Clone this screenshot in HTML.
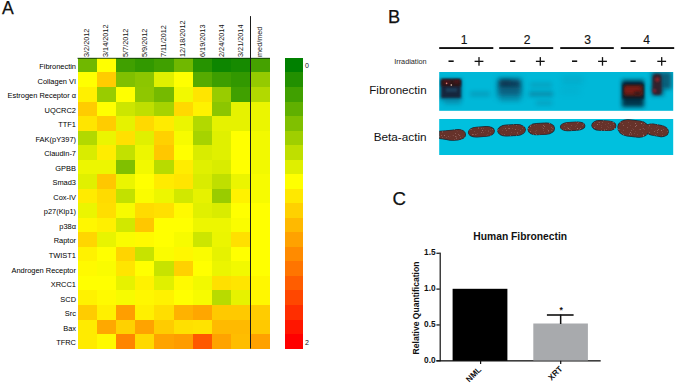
<!DOCTYPE html>
<html lang="en"><head><meta charset="utf-8"><title>Figure</title>
<style>html,body{margin:0;padding:0;background:#fff;overflow:hidden}body{width:675px;height:383px}</style>
</head><body>
<svg width="675" height="383" viewBox="0 0 675 383" font-family='"Liberation Sans", Arial, Helvetica, sans-serif' style="display:block">
<defs>
<filter id="b1" filterUnits="userSpaceOnUse" x="400" y="40" width="300" height="140"><feGaussianBlur stdDeviation="1"/></filter>
<filter id="b2" filterUnits="userSpaceOnUse" x="400" y="40" width="300" height="140"><feGaussianBlur stdDeviation="2"/></filter>
<filter id="b3" filterUnits="userSpaceOnUse" x="400" y="40" width="300" height="140"><feGaussianBlur stdDeviation="3"/></filter>
<filter id="b08" filterUnits="userSpaceOnUse" x="400" y="40" width="300" height="140"><feGaussianBlur stdDeviation="0.85"/></filter>
<filter id="b05" filterUnits="userSpaceOnUse" x="400" y="40" width="300" height="140"><feGaussianBlur stdDeviation="0.6"/></filter>
<filter id="tex" filterUnits="userSpaceOnUse" x="430" y="110" width="250" height="50">
<feTurbulence type="fractalNoise" baseFrequency="0.85" numOctaves="2" seed="7" result="n"/>
<feColorMatrix in="n" type="matrix" values="0 0 0 0 0.52  0 0 0 0 0.27  0 0 0 0 0.24  2.6 0 0 0 -1.62" result="sp"/>
<feComposite in="sp" in2="SourceAlpha" operator="in" result="sp2"/>
<feMerge result="m"><feMergeNode in="SourceGraphic"/><feMergeNode in="sp2"/></feMerge>
<feGaussianBlur in="m" stdDeviation="0.55"/>
</filter>
<filter id="soft" x="-5%" y="-5%" width="110%" height="110%"><feGaussianBlur stdDeviation="0.45"/></filter>
<clipPath id="c1"><rect x="439.2" y="72" width="234" height="38.8"/></clipPath>
<clipPath id="c2"><rect x="439.2" y="119" width="234" height="36"/></clipPath>
</defs>
<rect width="675" height="383" fill="#fff"/>
<text x="1.9" y="14.1" font-size="17.6" fill="#111" stroke="#111" stroke-width="0.25">A</text>
<text x="388.1" y="22.7" font-size="18.2" fill="#111" stroke="#111" stroke-width="0.25">B</text>
<text x="392.6" y="205.0" font-size="18.6" fill="#111" stroke="#111" stroke-width="0.25">C</text>
<g shape-rendering="crispEdges" filter="url(#soft)">
<rect x="77.50" y="57.90" width="19.54" height="14.84" fill="#70b800"/>
<rect x="96.75" y="57.90" width="19.54" height="14.84" fill="#ffff00"/>
<rect x="115.99" y="57.90" width="19.54" height="14.84" fill="#40a000"/>
<rect x="135.23" y="57.90" width="19.54" height="14.84" fill="#339900"/>
<rect x="154.48" y="57.90" width="19.54" height="14.84" fill="#40a000"/>
<rect x="173.72" y="57.90" width="19.54" height="14.84" fill="#70b800"/>
<rect x="192.97" y="57.90" width="19.54" height="14.84" fill="#269300"/>
<rect x="212.21" y="57.90" width="19.54" height="14.84" fill="#0d8600"/>
<rect x="231.46" y="57.90" width="19.54" height="14.84" fill="#148a00"/>
<rect x="250.70" y="57.90" width="19.54" height="14.84" fill="#45a200"/>
<rect x="77.50" y="72.44" width="19.54" height="14.84" fill="#ffff00"/>
<rect x="96.75" y="72.44" width="19.54" height="14.84" fill="#ffcc00"/>
<rect x="115.99" y="72.44" width="19.54" height="14.84" fill="#80c000"/>
<rect x="135.23" y="72.44" width="19.54" height="14.84" fill="#8cc600"/>
<rect x="154.48" y="72.44" width="19.54" height="14.84" fill="#e0f000"/>
<rect x="173.72" y="72.44" width="19.54" height="14.84" fill="#ffff00"/>
<rect x="192.97" y="72.44" width="19.54" height="14.84" fill="#57ab00"/>
<rect x="212.21" y="72.44" width="19.54" height="14.84" fill="#3d9e00"/>
<rect x="231.46" y="72.44" width="19.54" height="14.84" fill="#309800"/>
<rect x="250.70" y="72.44" width="19.54" height="14.84" fill="#94ca00"/>
<rect x="77.50" y="86.97" width="19.54" height="14.84" fill="#fff000"/>
<rect x="96.75" y="86.97" width="19.54" height="14.84" fill="#99cc00"/>
<rect x="115.99" y="86.97" width="19.54" height="14.84" fill="#ffff00"/>
<rect x="135.23" y="86.97" width="19.54" height="14.84" fill="#8fc700"/>
<rect x="154.48" y="86.97" width="19.54" height="14.84" fill="#75ba00"/>
<rect x="173.72" y="86.97" width="19.54" height="14.84" fill="#f2f900"/>
<rect x="192.97" y="86.97" width="19.54" height="14.84" fill="#ffe500"/>
<rect x="212.21" y="86.97" width="19.54" height="14.84" fill="#99cc00"/>
<rect x="231.46" y="86.97" width="19.54" height="14.84" fill="#40a000"/>
<rect x="250.70" y="86.97" width="19.54" height="14.84" fill="#b2d900"/>
<rect x="77.50" y="101.50" width="19.54" height="14.84" fill="#ffcc00"/>
<rect x="96.75" y="101.50" width="19.54" height="14.84" fill="#ffff00"/>
<rect x="115.99" y="101.50" width="19.54" height="14.84" fill="#cce600"/>
<rect x="135.23" y="101.50" width="19.54" height="14.84" fill="#bfdf00"/>
<rect x="154.48" y="101.50" width="19.54" height="14.84" fill="#a6d300"/>
<rect x="173.72" y="101.50" width="19.54" height="14.84" fill="#ffd900"/>
<rect x="192.97" y="101.50" width="19.54" height="14.84" fill="#fff200"/>
<rect x="212.21" y="101.50" width="19.54" height="14.84" fill="#8cc600"/>
<rect x="231.46" y="101.50" width="19.54" height="14.84" fill="#e6f200"/>
<rect x="250.70" y="101.50" width="19.54" height="14.84" fill="#ebf500"/>
<rect x="77.50" y="116.04" width="19.54" height="14.84" fill="#ffe500"/>
<rect x="96.75" y="116.04" width="19.54" height="14.84" fill="#ffcc00"/>
<rect x="115.99" y="116.04" width="19.54" height="14.84" fill="#e6f200"/>
<rect x="135.23" y="116.04" width="19.54" height="14.84" fill="#ffd900"/>
<rect x="154.48" y="116.04" width="19.54" height="14.84" fill="#ffeb00"/>
<rect x="173.72" y="116.04" width="19.54" height="14.84" fill="#ebf500"/>
<rect x="192.97" y="116.04" width="19.54" height="14.84" fill="#b2d900"/>
<rect x="212.21" y="116.04" width="19.54" height="14.84" fill="#e6f200"/>
<rect x="231.46" y="116.04" width="19.54" height="14.84" fill="#e6f200"/>
<rect x="250.70" y="116.04" width="19.54" height="14.84" fill="#ebf500"/>
<rect x="77.50" y="130.58" width="19.54" height="14.84" fill="#b2d900"/>
<rect x="96.75" y="130.58" width="19.54" height="14.84" fill="#ebf500"/>
<rect x="115.99" y="130.58" width="19.54" height="14.84" fill="#ffe000"/>
<rect x="135.23" y="130.58" width="19.54" height="14.84" fill="#e0f000"/>
<rect x="154.48" y="130.58" width="19.54" height="14.84" fill="#ffd100"/>
<rect x="173.72" y="130.58" width="19.54" height="14.84" fill="#f7fb00"/>
<rect x="192.97" y="130.58" width="19.54" height="14.84" fill="#a6d300"/>
<rect x="212.21" y="130.58" width="19.54" height="14.84" fill="#e0f000"/>
<rect x="231.46" y="130.58" width="19.54" height="14.84" fill="#ffff00"/>
<rect x="250.70" y="130.58" width="19.54" height="14.84" fill="#f2f900"/>
<rect x="77.50" y="145.11" width="19.54" height="14.84" fill="#d9ec00"/>
<rect x="96.75" y="145.11" width="19.54" height="14.84" fill="#ffed00"/>
<rect x="115.99" y="145.11" width="19.54" height="14.84" fill="#c2e100"/>
<rect x="135.23" y="145.11" width="19.54" height="14.84" fill="#edf600"/>
<rect x="154.48" y="145.11" width="19.54" height="14.84" fill="#ffc700"/>
<rect x="173.72" y="145.11" width="19.54" height="14.84" fill="#ffff00"/>
<rect x="192.97" y="145.11" width="19.54" height="14.84" fill="#d9ec00"/>
<rect x="212.21" y="145.11" width="19.54" height="14.84" fill="#e0f000"/>
<rect x="231.46" y="145.11" width="19.54" height="14.84" fill="#ffff00"/>
<rect x="250.70" y="145.11" width="19.54" height="14.84" fill="#f2f900"/>
<rect x="77.50" y="159.65" width="19.54" height="14.84" fill="#edf600"/>
<rect x="96.75" y="159.65" width="19.54" height="14.84" fill="#edf600"/>
<rect x="115.99" y="159.65" width="19.54" height="14.84" fill="#80c000"/>
<rect x="135.23" y="159.65" width="19.54" height="14.84" fill="#f2f900"/>
<rect x="154.48" y="159.65" width="19.54" height="14.84" fill="#b8db00"/>
<rect x="173.72" y="159.65" width="19.54" height="14.84" fill="#ffed00"/>
<rect x="192.97" y="159.65" width="19.54" height="14.84" fill="#e0f000"/>
<rect x="212.21" y="159.65" width="19.54" height="14.84" fill="#d9ec00"/>
<rect x="231.46" y="159.65" width="19.54" height="14.84" fill="#ffff00"/>
<rect x="250.70" y="159.65" width="19.54" height="14.84" fill="#f2f900"/>
<rect x="77.50" y="174.18" width="19.54" height="14.84" fill="#e0f000"/>
<rect x="96.75" y="174.18" width="19.54" height="14.84" fill="#ffc700"/>
<rect x="115.99" y="174.18" width="19.54" height="14.84" fill="#ebf500"/>
<rect x="135.23" y="174.18" width="19.54" height="14.84" fill="#ffff00"/>
<rect x="154.48" y="174.18" width="19.54" height="14.84" fill="#ffeb00"/>
<rect x="173.72" y="174.18" width="19.54" height="14.84" fill="#ffe500"/>
<rect x="192.97" y="174.18" width="19.54" height="14.84" fill="#d9ec00"/>
<rect x="212.21" y="174.18" width="19.54" height="14.84" fill="#bfdf00"/>
<rect x="231.46" y="174.18" width="19.54" height="14.84" fill="#ebf500"/>
<rect x="250.70" y="174.18" width="19.54" height="14.84" fill="#f7fb00"/>
<rect x="77.50" y="188.72" width="19.54" height="14.84" fill="#ffeb00"/>
<rect x="96.75" y="188.72" width="19.54" height="14.84" fill="#ffdb00"/>
<rect x="115.99" y="188.72" width="19.54" height="14.84" fill="#c2e100"/>
<rect x="135.23" y="188.72" width="19.54" height="14.84" fill="#fafc00"/>
<rect x="154.48" y="188.72" width="19.54" height="14.84" fill="#edf600"/>
<rect x="173.72" y="188.72" width="19.54" height="14.84" fill="#d1e800"/>
<rect x="192.97" y="188.72" width="19.54" height="14.84" fill="#e6f200"/>
<rect x="212.21" y="188.72" width="19.54" height="14.84" fill="#99cc00"/>
<rect x="231.46" y="188.72" width="19.54" height="14.84" fill="#fff200"/>
<rect x="250.70" y="188.72" width="19.54" height="14.84" fill="#f7fb00"/>
<rect x="77.50" y="203.25" width="19.54" height="14.84" fill="#ebf500"/>
<rect x="96.75" y="203.25" width="19.54" height="14.84" fill="#ffde00"/>
<rect x="115.99" y="203.25" width="19.54" height="14.84" fill="#f7fb00"/>
<rect x="135.23" y="203.25" width="19.54" height="14.84" fill="#ffdb00"/>
<rect x="154.48" y="203.25" width="19.54" height="14.84" fill="#ffe000"/>
<rect x="173.72" y="203.25" width="19.54" height="14.84" fill="#fffa00"/>
<rect x="192.97" y="203.25" width="19.54" height="14.84" fill="#e0f000"/>
<rect x="212.21" y="203.25" width="19.54" height="14.84" fill="#d9ec00"/>
<rect x="231.46" y="203.25" width="19.54" height="14.84" fill="#ffff00"/>
<rect x="250.70" y="203.25" width="19.54" height="14.84" fill="#ffff00"/>
<rect x="77.50" y="217.79" width="19.54" height="14.84" fill="#fff700"/>
<rect x="96.75" y="217.79" width="19.54" height="14.84" fill="#fff000"/>
<rect x="115.99" y="217.79" width="19.54" height="14.84" fill="#d1e800"/>
<rect x="135.23" y="217.79" width="19.54" height="14.84" fill="#ffc700"/>
<rect x="154.48" y="217.79" width="19.54" height="14.84" fill="#ffff00"/>
<rect x="173.72" y="217.79" width="19.54" height="14.84" fill="#ffff00"/>
<rect x="192.97" y="217.79" width="19.54" height="14.84" fill="#edf600"/>
<rect x="212.21" y="217.79" width="19.54" height="14.84" fill="#edf600"/>
<rect x="231.46" y="217.79" width="19.54" height="14.84" fill="#fafc00"/>
<rect x="250.70" y="217.79" width="19.54" height="14.84" fill="#ffff00"/>
<rect x="77.50" y="232.32" width="19.54" height="14.84" fill="#ffd600"/>
<rect x="96.75" y="232.32" width="19.54" height="14.84" fill="#e8f400"/>
<rect x="115.99" y="232.32" width="19.54" height="14.84" fill="#fafc00"/>
<rect x="135.23" y="232.32" width="19.54" height="14.84" fill="#fffa00"/>
<rect x="154.48" y="232.32" width="19.54" height="14.84" fill="#ffff00"/>
<rect x="173.72" y="232.32" width="19.54" height="14.84" fill="#f7fb00"/>
<rect x="192.97" y="232.32" width="19.54" height="14.84" fill="#cce600"/>
<rect x="212.21" y="232.32" width="19.54" height="14.84" fill="#ebf500"/>
<rect x="231.46" y="232.32" width="19.54" height="14.84" fill="#ffe000"/>
<rect x="250.70" y="232.32" width="19.54" height="14.84" fill="#ffff00"/>
<rect x="77.50" y="246.86" width="19.54" height="14.84" fill="#fff200"/>
<rect x="96.75" y="246.86" width="19.54" height="14.84" fill="#ffff00"/>
<rect x="115.99" y="246.86" width="19.54" height="14.84" fill="#ffd400"/>
<rect x="135.23" y="246.86" width="19.54" height="14.84" fill="#c7e300"/>
<rect x="154.48" y="246.86" width="19.54" height="14.84" fill="#fafc00"/>
<rect x="173.72" y="246.86" width="19.54" height="14.84" fill="#fff700"/>
<rect x="192.97" y="246.86" width="19.54" height="14.84" fill="#fafc00"/>
<rect x="212.21" y="246.86" width="19.54" height="14.84" fill="#e6f200"/>
<rect x="231.46" y="246.86" width="19.54" height="14.84" fill="#ffff00"/>
<rect x="250.70" y="246.86" width="19.54" height="14.84" fill="#ffff00"/>
<rect x="77.50" y="261.39" width="19.54" height="14.84" fill="#fffa00"/>
<rect x="96.75" y="261.39" width="19.54" height="14.84" fill="#fafc00"/>
<rect x="115.99" y="261.39" width="19.54" height="14.84" fill="#ffe500"/>
<rect x="135.23" y="261.39" width="19.54" height="14.84" fill="#ffff00"/>
<rect x="154.48" y="261.39" width="19.54" height="14.84" fill="#c7e300"/>
<rect x="173.72" y="261.39" width="19.54" height="14.84" fill="#ffd100"/>
<rect x="192.97" y="261.39" width="19.54" height="14.84" fill="#ffff00"/>
<rect x="212.21" y="261.39" width="19.54" height="14.84" fill="#ebf500"/>
<rect x="231.46" y="261.39" width="19.54" height="14.84" fill="#f2f900"/>
<rect x="250.70" y="261.39" width="19.54" height="14.84" fill="#ffff00"/>
<rect x="77.50" y="275.93" width="19.54" height="14.84" fill="#ffff00"/>
<rect x="96.75" y="275.93" width="19.54" height="14.84" fill="#ffff00"/>
<rect x="115.99" y="275.93" width="19.54" height="14.84" fill="#e6f200"/>
<rect x="135.23" y="275.93" width="19.54" height="14.84" fill="#fff200"/>
<rect x="154.48" y="275.93" width="19.54" height="14.84" fill="#e0f000"/>
<rect x="173.72" y="275.93" width="19.54" height="14.84" fill="#fffa00"/>
<rect x="192.97" y="275.93" width="19.54" height="14.84" fill="#f2f900"/>
<rect x="212.21" y="275.93" width="19.54" height="14.84" fill="#ffe000"/>
<rect x="231.46" y="275.93" width="19.54" height="14.84" fill="#ffe500"/>
<rect x="250.70" y="275.93" width="19.54" height="14.84" fill="#fff700"/>
<rect x="77.50" y="290.46" width="19.54" height="14.84" fill="#fff200"/>
<rect x="96.75" y="290.46" width="19.54" height="14.84" fill="#fffa00"/>
<rect x="115.99" y="290.46" width="19.54" height="14.84" fill="#f7fb00"/>
<rect x="135.23" y="290.46" width="19.54" height="14.84" fill="#fff700"/>
<rect x="154.48" y="290.46" width="19.54" height="14.84" fill="#fff200"/>
<rect x="173.72" y="290.46" width="19.54" height="14.84" fill="#ffff00"/>
<rect x="192.97" y="290.46" width="19.54" height="14.84" fill="#f7fb00"/>
<rect x="212.21" y="290.46" width="19.54" height="14.84" fill="#b8db00"/>
<rect x="231.46" y="290.46" width="19.54" height="14.84" fill="#e6f200"/>
<rect x="250.70" y="290.46" width="19.54" height="14.84" fill="#fff700"/>
<rect x="77.50" y="305.00" width="19.54" height="14.84" fill="#ffcc00"/>
<rect x="96.75" y="305.00" width="19.54" height="14.84" fill="#fff000"/>
<rect x="115.99" y="305.00" width="19.54" height="14.84" fill="#ff9e00"/>
<rect x="135.23" y="305.00" width="19.54" height="14.84" fill="#fff000"/>
<rect x="154.48" y="305.00" width="19.54" height="14.84" fill="#ffde00"/>
<rect x="173.72" y="305.00" width="19.54" height="14.84" fill="#ffb200"/>
<rect x="192.97" y="305.00" width="19.54" height="14.84" fill="#ffa600"/>
<rect x="212.21" y="305.00" width="19.54" height="14.84" fill="#ffc900"/>
<rect x="231.46" y="305.00" width="19.54" height="14.84" fill="#ffc900"/>
<rect x="250.70" y="305.00" width="19.54" height="14.84" fill="#ffcc00"/>
<rect x="77.50" y="319.53" width="19.54" height="14.84" fill="#ffeb00"/>
<rect x="96.75" y="319.53" width="19.54" height="14.84" fill="#ffa800"/>
<rect x="115.99" y="319.53" width="19.54" height="14.84" fill="#ffd100"/>
<rect x="135.23" y="319.53" width="19.54" height="14.84" fill="#ffa300"/>
<rect x="154.48" y="319.53" width="19.54" height="14.84" fill="#ffcc00"/>
<rect x="173.72" y="319.53" width="19.54" height="14.84" fill="#ffe000"/>
<rect x="192.97" y="319.53" width="19.54" height="14.84" fill="#ffe300"/>
<rect x="212.21" y="319.53" width="19.54" height="14.84" fill="#ffba00"/>
<rect x="231.46" y="319.53" width="19.54" height="14.84" fill="#ffba00"/>
<rect x="250.70" y="319.53" width="19.54" height="14.84" fill="#ffc900"/>
<rect x="77.50" y="334.06" width="19.54" height="14.84" fill="#ffeb00"/>
<rect x="96.75" y="334.06" width="19.54" height="14.84" fill="#fffa00"/>
<rect x="115.99" y="334.06" width="19.54" height="14.84" fill="#ff8500"/>
<rect x="135.23" y="334.06" width="19.54" height="14.84" fill="#ffd900"/>
<rect x="154.48" y="334.06" width="19.54" height="14.84" fill="#ffa300"/>
<rect x="173.72" y="334.06" width="19.54" height="14.84" fill="#ff9c00"/>
<rect x="192.97" y="334.06" width="19.54" height="14.84" fill="#ff5900"/>
<rect x="212.21" y="334.06" width="19.54" height="14.84" fill="#ffa300"/>
<rect x="231.46" y="334.06" width="19.54" height="14.84" fill="#ffbd00"/>
<rect x="250.70" y="334.06" width="19.54" height="14.84" fill="#ffa100"/>
<rect x="284.9" y="57.90" width="18.1" height="14.84" fill="#008000"/>
<rect x="284.9" y="72.44" width="18.1" height="14.84" fill="#209000"/>
<rect x="284.9" y="86.97" width="18.1" height="14.84" fill="#40a000"/>
<rect x="284.9" y="101.50" width="18.1" height="14.84" fill="#60b000"/>
<rect x="284.9" y="116.04" width="18.1" height="14.84" fill="#80c000"/>
<rect x="284.9" y="130.58" width="18.1" height="14.84" fill="#9fcf00"/>
<rect x="284.9" y="145.11" width="18.1" height="14.84" fill="#bfdf00"/>
<rect x="284.9" y="159.65" width="18.1" height="14.84" fill="#dfef00"/>
<rect x="284.9" y="174.18" width="18.1" height="14.84" fill="#ffff00"/>
<rect x="284.9" y="188.72" width="18.1" height="14.84" fill="#ffe800"/>
<rect x="284.9" y="203.25" width="18.1" height="14.84" fill="#ffd100"/>
<rect x="284.9" y="217.79" width="18.1" height="14.84" fill="#ffb900"/>
<rect x="284.9" y="232.32" width="18.1" height="14.84" fill="#ffa200"/>
<rect x="284.9" y="246.86" width="18.1" height="14.84" fill="#ff8b00"/>
<rect x="284.9" y="261.39" width="18.1" height="14.84" fill="#ff7400"/>
<rect x="284.9" y="275.93" width="18.1" height="14.84" fill="#ff5d00"/>
<rect x="284.9" y="290.46" width="18.1" height="14.84" fill="#ff4600"/>
<rect x="284.9" y="305.00" width="18.1" height="14.84" fill="#ff2e00"/>
<rect x="284.9" y="319.53" width="18.1" height="14.84" fill="#ff1700"/>
<rect x="284.9" y="334.06" width="18.1" height="14.84" fill="#ff0000"/>
</g>
<rect x="77.5" y="57.8" width="192.45" height="1.0" fill="#0a300a" opacity="0.85"/>
<rect x="250" y="16.1" width="1" height="332.50" fill="#1a1a1a"/>
<text x="76.0" y="69.07" font-size="7.45" text-anchor="end" fill="#000">Fibronectin</text>
<text x="76.0" y="83.60" font-size="7.45" text-anchor="end" fill="#000">Collagen VI</text>
<text x="76.0" y="98.14" font-size="7.45" text-anchor="end" fill="#000">Estrogen Receptor α</text>
<text x="76.0" y="112.67" font-size="7.45" text-anchor="end" fill="#000">UQCRC2</text>
<text x="76.0" y="127.21" font-size="7.45" text-anchor="end" fill="#000">TTF1</text>
<text x="76.0" y="141.74" font-size="7.45" text-anchor="end" fill="#000">FAK(pY397)</text>
<text x="76.0" y="156.28" font-size="7.45" text-anchor="end" fill="#000">Claudin-7</text>
<text x="76.0" y="170.81" font-size="7.45" text-anchor="end" fill="#000">GPBB</text>
<text x="76.0" y="185.35" font-size="7.45" text-anchor="end" fill="#000">Smad3</text>
<text x="76.0" y="199.88" font-size="7.45" text-anchor="end" fill="#000">Cox-IV</text>
<text x="76.0" y="214.42" font-size="7.45" text-anchor="end" fill="#000">p27(Kip1)</text>
<text x="76.0" y="228.95" font-size="7.45" text-anchor="end" fill="#000">p38α</text>
<text x="76.0" y="243.49" font-size="7.45" text-anchor="end" fill="#000">Raptor</text>
<text x="76.0" y="258.02" font-size="7.45" text-anchor="end" fill="#000">TWIST1</text>
<text x="76.0" y="272.56" font-size="7.45" text-anchor="end" fill="#000">Androgen Receptor</text>
<text x="76.0" y="287.09" font-size="7.45" text-anchor="end" fill="#000">XRCC1</text>
<text x="76.0" y="301.63" font-size="7.45" text-anchor="end" fill="#000">SCD</text>
<text x="76.0" y="316.16" font-size="7.45" text-anchor="end" fill="#000">Src</text>
<text x="76.0" y="330.70" font-size="7.45" text-anchor="end" fill="#000">Bax</text>
<text x="76.0" y="345.23" font-size="7.45" text-anchor="end" fill="#000">TFRC</text>
<text transform="translate(89.12,57) rotate(-90)" font-size="7.3" fill="#111">3/2/2012</text>
<text transform="translate(108.37,57) rotate(-90)" font-size="7.3" fill="#111">3/14/2012</text>
<text transform="translate(127.61,57) rotate(-90)" font-size="7.3" fill="#111">5/7/2012</text>
<text transform="translate(146.86,57) rotate(-90)" font-size="7.3" fill="#111">5/9/2012</text>
<text transform="translate(166.10,57) rotate(-90)" font-size="7.3" fill="#111">7/11/2012</text>
<text transform="translate(185.35,57) rotate(-90)" font-size="7.3" fill="#111">12/18/2012</text>
<text transform="translate(204.59,57) rotate(-90)" font-size="7.3" fill="#111">6/19/2013</text>
<text transform="translate(223.84,57) rotate(-90)" font-size="7.3" fill="#111">2/24/2014</text>
<text transform="translate(243.08,57) rotate(-90)" font-size="7.3" fill="#111">3/21/2014</text>
<text transform="translate(262.33,57) rotate(-90)" font-size="7.3" fill="#111">med/med</text>
<text x="304.9" y="68.2" font-size="7.0" fill="#111">0</text>
<text x="304.9" y="344.6" font-size="7.0" fill="#111">2</text>
<rect x="439.2" y="47.1" width="54.1" height="1.9" fill="#111"/>
<text x="464" y="44" font-size="12.1" text-anchor="middle" fill="#111" stroke="#111" stroke-width="0.15">1</text>
<rect x="499.2" y="47.1" width="54.0" height="1.9" fill="#111"/>
<text x="527" y="44" font-size="12.1" text-anchor="middle" fill="#111" stroke="#111" stroke-width="0.15">2</text>
<rect x="560.2" y="47.1" width="53.6" height="1.9" fill="#111"/>
<text x="587.5" y="44" font-size="12.1" text-anchor="middle" fill="#111" stroke="#111" stroke-width="0.15">3</text>
<rect x="620.8" y="47.1" width="53.4" height="1.9" fill="#111"/>
<text x="646.5" y="44" font-size="12.1" text-anchor="middle" fill="#111" stroke="#111" stroke-width="0.15">4</text>
<text x="394.2" y="63.6" font-size="7.3" fill="#262626">Irradiation</text>
<rect x="448.5" y="60.4" width="5.2" height="1.6" fill="#111"/>
<rect x="510.1" y="60.4" width="5.2" height="1.6" fill="#111"/>
<rect x="572.0" y="60.4" width="5.2" height="1.6" fill="#111"/>
<rect x="630.5" y="60.4" width="5.2" height="1.6" fill="#111"/>
<rect x="474.6" y="60.7" width="8.8" height="1.3" fill="#111"/>
<rect x="478.35" y="57.1" width="1.3" height="8.6" fill="#111"/>
<rect x="535.9" y="60.7" width="8.8" height="1.3" fill="#111"/>
<rect x="539.65" y="57.1" width="1.3" height="8.6" fill="#111"/>
<rect x="598.1" y="60.7" width="8.8" height="1.3" fill="#111"/>
<rect x="601.85" y="57.1" width="1.3" height="8.6" fill="#111"/>
<rect x="657.3000000000001" y="60.7" width="8.8" height="1.3" fill="#111"/>
<rect x="661.0500000000001" y="57.1" width="1.3" height="8.6" fill="#111"/>
<text x="426.6" y="93.8" font-size="11.6" text-anchor="end" fill="#111">Fibronectin</text>
<text x="426.6" y="141.3" font-size="11.75" text-anchor="end" fill="#111">Beta-actin</text>
<rect x="439.2" y="72" width="234" height="38.8" fill="#00b8d8"/>
<rect x="439.2" y="119" width="234" height="36" fill="#00c0de"/>
<g clip-path="url(#c1)">
<rect x="440.5" y="79" width="21" height="21" fill="#0a4a66" opacity="0.65" filter="url(#b2)"/>
<rect x="441.2" y="79.4" width="19.6" height="18.6" fill="#12273c" filter="url(#b08)"/>
<rect x="441.2" y="79.4" width="19.6" height="6.8" fill="#2e1219" filter="url(#b08)"/>
<rect x="444" y="80.5" width="6" height="3" fill="#4e151e" filter="url(#b08)"/><rect x="454" y="80" width="5" height="3" fill="#48151e" filter="url(#b08)"/>
<rect x="446" y="88" width="11" height="4" fill="#1c4666" opacity="0.7" filter="url(#b1)"/>
<circle cx="446.6" cy="83.4" r="0.8" fill="#e08070" filter="url(#b05)"/><circle cx="451.3" cy="85" r="0.8" fill="#f0d0c0" filter="url(#b05)"/>
<rect x="444" y="99.5" width="17" height="5" fill="#0a6a88" opacity="0.4" filter="url(#b2)"/>
<rect x="470" y="91.5" width="20" height="5" fill="#0a6a88" opacity="0.32" filter="url(#b2)"/>
<rect x="497.5" y="78.5" width="24" height="19" fill="#085a7a" opacity="0.7" filter="url(#b3)"/>
<rect x="499.5" y="80" width="20.5" height="8.5" fill="#0e3e58" opacity="0.9" filter="url(#b2)"/>
<rect x="500" y="80.5" width="11" height="4.5" fill="#0c3048" opacity="0.6" filter="url(#b2)"/>
<rect x="499.5" y="88" width="20.5" height="7" fill="#0a5676" opacity="0.6" filter="url(#b2)"/>
<rect x="500" y="96" width="20" height="6" fill="#0a6a88" opacity="0.3" filter="url(#b2)"/>
<rect x="530" y="82" width="22" height="6" fill="#0a6a88" opacity="0.25" filter="url(#b2)"/>
<rect x="529" y="91.5" width="24" height="5" fill="#0a5a78" opacity="0.45" filter="url(#b2)"/>
<rect x="536" y="101" width="16" height="4" fill="#0a6a88" opacity="0.3" filter="url(#b2)"/>
<rect x="562" y="77" width="21" height="6" fill="#0a7a98" opacity="0.25" filter="url(#b3)"/>
<rect x="560" y="88" width="20" height="6" fill="#0a7a98" opacity="0.12" filter="url(#b3)"/>
<rect x="622" y="80" width="22" height="27" fill="#06283a" opacity="0.9" filter="url(#b2)"/>
<rect x="622.6" y="83.5" width="21.2" height="15.5" fill="#081a28" opacity="0.9" filter="url(#b1)"/>
<rect x="623.8" y="84.9" width="19.2" height="11.2" rx="2.5" fill="#5a1a19" filter="url(#b08)"/>
<rect x="625" y="87" width="15" height="6" rx="2" fill="#7a1c18" filter="url(#b1)"/>
<rect x="634" y="91.5" width="7" height="3.5" rx="1.5" fill="#3c1618" filter="url(#b1)"/>
<rect x="651.5" y="72" width="20" height="17" fill="#08405a" opacity="0.75" filter="url(#b2)"/>
<rect x="651" y="87" width="13" height="9" fill="#083a52" opacity="0.6" filter="url(#b2)"/>
<rect x="652.6" y="74" width="9" height="21" rx="3.5" fill="#30202e" filter="url(#b1)"/>
<circle cx="657.3" cy="79.6" r="2.3" fill="#8a2028" filter="url(#b1)"/><circle cx="654.6" cy="90.8" r="1.8" fill="#842030" filter="url(#b1)"/>
</g>
<g clip-path="url(#c2)"><g fill="#66302a" stroke="#16303c" stroke-width="1.3" filter="url(#tex)">
<path d="M436,131.6 C445,131.2 452,130.2 458,129.7 C463,129.5 465.6,132 465.3,135 C465,138.6 459,140.3 453,140.2 C447,140 445,138.2 436,138 Z"/>
<g transform="rotate(-4 481.4 131.8)"><rect x="468.5" y="127.0" width="25.8" height="9.5" rx="8.3" ry="4.7"/></g>
<g transform="rotate(-3 511.5 130.3)"><rect x="497.8" y="125.0" width="27.5" height="10.6" rx="8.8" ry="5.3"/></g>
<g transform="rotate(-3 541.2 128.9)"><rect x="528.1" y="123.5" width="26.3" height="10.9" rx="8.5" ry="5.4"/></g>
<g transform="rotate(-3 572.6 126.3)"><rect x="560.5" y="122.3" width="24.3" height="8.0" rx="7.8" ry="4.0"/></g>
<g transform="rotate(2 603.8 125.6)"><rect x="591.9" y="120.9" width="23.9" height="9.4" rx="7.7" ry="4.7"/></g>
<g transform="rotate(6 633.4 128.5)"><rect x="617.9" y="120.5" width="31.0" height="16.0" rx="9.9" ry="8.0"/></g>
<g transform="rotate(10 656.5 130.3)"><rect x="644.5" y="124.9" width="23.9" height="10.8" rx="7.7" ry="5.4"/></g>
<g stroke="none">
<path d="M436,131.6 C445,131.2 452,130.2 458,129.7 C463,129.5 465.6,132 465.3,135 C465,138.6 459,140.3 453,140.2 C447,140 445,138.2 436,138 Z"/>
<g transform="rotate(-4 481.4 131.8)"><rect x="468.5" y="127.0" width="25.8" height="9.5" rx="8.3" ry="4.7"/></g>
<g transform="rotate(-3 511.5 130.3)"><rect x="497.8" y="125.0" width="27.5" height="10.6" rx="8.8" ry="5.3"/></g>
<g transform="rotate(-3 541.2 128.9)"><rect x="528.1" y="123.5" width="26.3" height="10.9" rx="8.5" ry="5.4"/></g>
<g transform="rotate(-3 572.6 126.3)"><rect x="560.5" y="122.3" width="24.3" height="8.0" rx="7.8" ry="4.0"/></g>
<g transform="rotate(2 603.8 125.6)"><rect x="591.9" y="120.9" width="23.9" height="9.4" rx="7.7" ry="4.7"/></g>
<g transform="rotate(6 633.4 128.5)"><rect x="617.9" y="120.5" width="31.0" height="16.0" rx="9.9" ry="8.0"/></g>
<g transform="rotate(10 656.5 130.3)"><rect x="644.5" y="124.9" width="23.9" height="10.8" rx="7.7" ry="5.4"/></g>
</g>
</g></g>
<text x="520.2" y="239.6" font-size="10.3" font-weight="bold" text-anchor="middle" fill="#111">Human Fibronectin</text>
<rect x="439.6" y="252.6" width="1.2" height="108.8" fill="#111"/>
<rect x="436.4" y="360.2" width="164.3" height="1.3" fill="#111"/>
<rect x="436.4" y="252.65" width="3.4" height="1.2" fill="#111"/>
<text x="435.6" y="255.35" font-size="8.3" font-weight="bold" text-anchor="end" fill="#111">1.5</text>
<rect x="436.4" y="288.50" width="3.4" height="1.2" fill="#111"/>
<text x="435.6" y="291.20" font-size="8.3" font-weight="bold" text-anchor="end" fill="#111">1.0</text>
<rect x="436.4" y="324.35" width="3.4" height="1.2" fill="#111"/>
<text x="435.6" y="327.05" font-size="8.3" font-weight="bold" text-anchor="end" fill="#111">0.5</text>
<rect x="436.4" y="360.20" width="3.4" height="1.2" fill="#111"/>
<text x="435.6" y="362.90" font-size="8.3" font-weight="bold" text-anchor="end" fill="#111">0.0</text>
<rect x="452.6" y="288.8" width="54.8" height="72" fill="#000"/>
<rect x="533.3" y="323.5" width="54.6" height="37" fill="#a8aaad"/>
<rect x="559.9" y="314.6" width="1.5" height="9.4" fill="#111"/>
<rect x="546.9" y="314.2" width="26.7" height="1.6" fill="#111"/>
<rect x="480.0" y="360.8" width="1.2" height="3.2" fill="#111"/>
<rect x="560.1" y="360.8" width="1.2" height="3.2" fill="#111"/>
<text x="561.1" y="312.6" font-size="8.6" font-weight="bold" text-anchor="middle" fill="#111">*</text>
<text transform="translate(419.4,308) rotate(-90)" font-size="8.57" font-weight="bold" text-anchor="middle" fill="#111">Relative Quantification</text>
<text transform="translate(481.8,370.2) rotate(-45)" font-size="8.2" font-weight="bold" text-anchor="end" fill="#111">NML</text>
<text transform="translate(563.0,369.4) rotate(-45)" font-size="8.2" font-weight="bold" text-anchor="end" fill="#111">XRT</text>
</svg>
</body></html>
